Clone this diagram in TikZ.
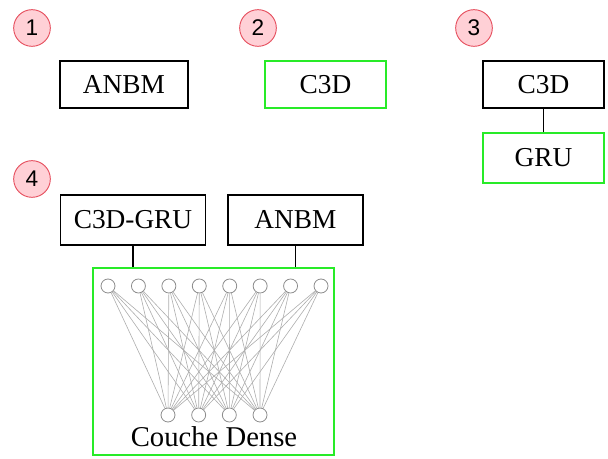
\documentclass[tikz,border=0pt]{standalone}
\usepackage{fontspec}
\setmainfont{Liberation Serif}
\newfontfamily\numfont{Liberation Sans}
\definecolor{brgreen}{RGB}{40,235,40}
\definecolor{numfill}{RGB}{255,208,214}
\definecolor{numdraw}{RGB}{230,80,95}
\begin{document}
\begin{tikzpicture}[x=0.75pt,y=-0.75pt,
  blk/.style={draw=black,line width=1.4pt,inner sep=0pt,font=\fontsize{20.5}{24}\selectfont,minimum height=35.25pt},
  grn/.style={draw=brgreen,line width=1.4pt,inner sep=0pt,font=\fontsize{20.5}{24}\selectfont,minimum height=35.25pt},
  num/.style={circle,draw=numdraw,fill=numfill,line width=0.7pt,minimum size=27.5pt,inner sep=0pt,font=\numfont\fontsize{17}{20}\selectfont},
  neuron/.style={circle,draw=black!45,fill=white,line width=0.6pt,minimum size=10.5pt,inner sep=0pt},
  wire/.style={draw=black!32,line width=0.45pt},
  link/.style={draw=black,line width=1.3pt}]
\useasboundingbox (0,0) rectangle (608,459);
% numbers
\node[num] (n1) at (32,28) {1};
\node[num] (n2) at (258,28) {2};
\node[num] (n3) at (474,28) {3};
\node[num] (n4) at (32,179) {4};
% panel 1
\node[blk,minimum width=96pt] (anbm1) at (124,84.5) {ANBM};
% panel 2
\node[grn,minimum width=90.75pt] (c3d2) at (325.5,84.5) {C3D};
% panel 3
\node[blk,minimum width=90.75pt] (c3d3) at (543.5,84.5) {C3D};
\node[grn,minimum width=90.75pt,minimum height=37.5pt] (gru3) at (543.5,158) {GRU};
\draw[link] (c3d3.south) -- (gru3.north);
% panel 4
\node[blk,minimum width=108.75pt,minimum height=37.5pt] (c3dgru) at (133,220) {C3D-GRU};
\node[blk,minimum width=101.25pt,minimum height=37.5pt] (anbm4) at (295.5,220) {ANBM};
\node[draw=brgreen,line width=1.4pt,minimum width=180.75pt,minimum height=140.25pt,inner sep=0pt] (dense) at (213.5,361.5) {};
\draw[link] (c3dgru.south) -- (c3dgru.south |- dense.north);
\draw[link] (anbm4.south) -- (anbm4.south |- dense.north);
\foreach \i in {0,...,7} {
  \node[neuron] (t\i) at ({108+30.43*\i},286) {};
}
\foreach \j in {0,...,3} {
  \node[neuron] (b\j) at ({168+30.67*\j},415) {};
}
\foreach \i in {0,...,7} {
  \foreach \j in {0,...,3} {
    \draw[wire] (t\i) -- (b\j);
  }
}
\node[font=\fontsize{21.5}{24}\selectfont,inner sep=0pt] (lbl) at (214,437) {Couche Dense};
\end{tikzpicture}
\end{document}
